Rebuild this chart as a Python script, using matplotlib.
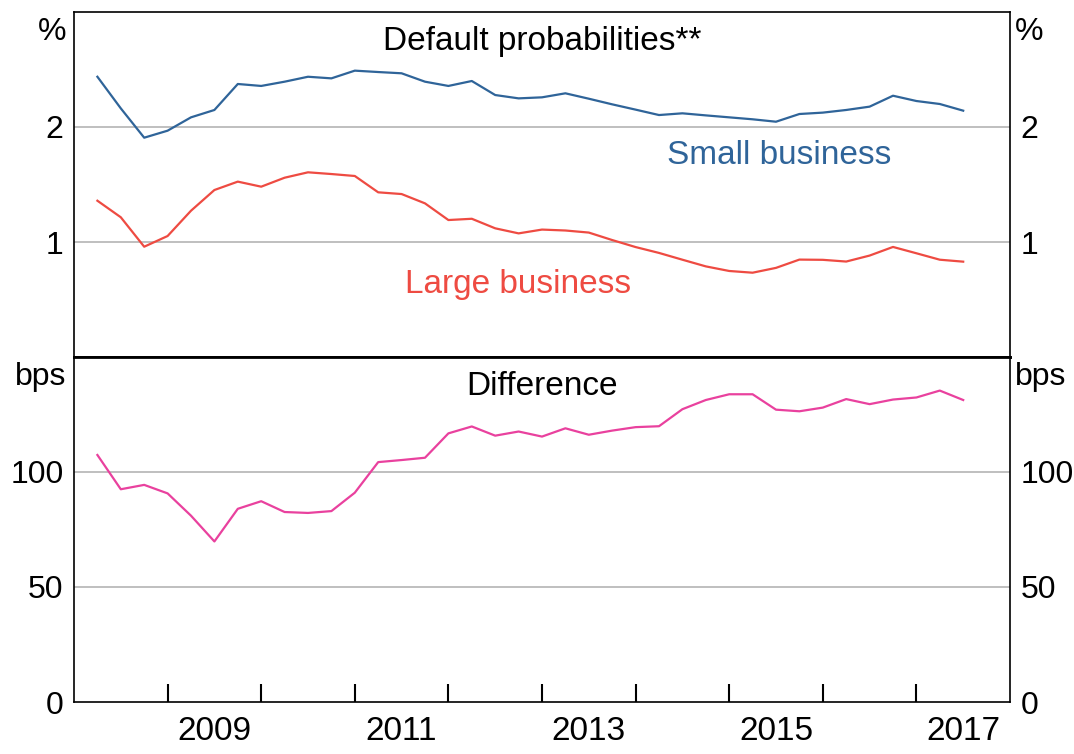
import numpy as np
import matplotlib.pyplot as plt

# Quarterly observations, 2008 Q2 .. 2017 Q3 (decimal years)
quarters = np.arange(2008.25, 2017.51, 0.25)

small_business = [2.437, 2.162, 1.907, 1.968, 2.084, 2.148, 2.374, 2.357, 2.394, 2.437,
                  2.423, 2.490, 2.478, 2.467, 2.394, 2.357, 2.400, 2.278, 2.249, 2.258,
                  2.293, 2.246, 2.197, 2.151, 2.104, 2.119, 2.101, 2.084, 2.067, 2.046,
                  2.113, 2.125, 2.148, 2.177, 2.272, 2.226, 2.200, 2.142]
large_business = [1.359, 1.215, 0.959, 1.052, 1.272, 1.452, 1.525, 1.481, 1.559, 1.606,
                  1.591, 1.574, 1.432, 1.417, 1.336, 1.191, 1.202, 1.119, 1.075, 1.108,
                  1.100, 1.082, 1.017, 0.956, 0.905, 0.846, 0.788, 0.748, 0.733, 0.775,
                  0.847, 0.845, 0.830, 0.882, 0.957, 0.902, 0.846, 0.829]
difference = [107.4, 92.5, 94.4, 90.7, 81.0, 69.8, 84.0, 87.3, 82.6, 82.2,
              83.0, 91.0, 104.3, 105.2, 106.2, 116.8, 119.8, 115.8, 117.6, 115.4,
              119.0, 116.2, 118.0, 119.5, 119.9, 127.3, 131.3, 133.8, 133.8, 127.1,
              126.4, 128.0, 131.7, 129.5, 131.5, 132.4, 135.4, 131.3]

year_ticks = list(range(2009, 2018))
year_labels = [2009, 2011, 2013, 2015, 2017]

BLUE = "#2f6499"
RED = "#ee4b42"
PINK = "#e9419e"
GRID = "#b4b4b4"

plt.rcParams['font.family'] = ['Liberation Sans', 'DejaVu Sans']
FS = 24
YFS = 23

fig = plt.figure(figsize=(10.74, 7.54), dpi=100)
W, H = 1074, 754
left, right = 74 / W, 1010 / W
top_px, mid_px, bot_px = 12, 357, 702
ax1 = fig.add_axes([left, 1 - mid_px / H, right - left, (mid_px - top_px) / H])
ax2 = fig.add_axes([left, 1 - bot_px / H, right - left, (bot_px - mid_px) / H], sharex=ax1)

# Top panel: default probabilities
ax1.plot(quarters, small_business, color=BLUE, lw=1.6)
ax1.plot(quarters, large_business, color=RED, lw=1.6)
ax1.set_ylim(0, 3)
ax1.set_yticks([1, 2])
for y in [1, 2]:
    ax1.axhline(y, color=GRID, lw=1.2, zorder=0)
ax1.text(0.5, 0.96, "Default probabilities**", transform=ax1.transAxes,
         ha='center', va='top', fontsize=FS)
ax1.text(2015.53, 1.75, "Small business", color=BLUE, fontsize=FS, ha='center', va='center')
ax1.text(2012.74, 0.63, "Large business", color=RED, fontsize=FS, ha='center', va='center')

# Bottom panel: difference
ax2.plot(quarters, difference, color=PINK, lw=1.6)
ax2.set_ylim(0, 150)
ax2.set_yticks([0, 50, 100])
for y in [50, 100]:
    ax2.axhline(y, color=GRID, lw=1.2, zorder=0)
ax2.text(0.5, 0.96, "Difference", transform=ax2.transAxes,
         ha='center', va='top', fontsize=FS)

# Shared x axis: ticks at year starts, labels mid-year
ax2.set_xlim(2008, 2018)
ax2.set_xticks(year_ticks)
ax2.set_xticks([y + 0.5 for y in year_labels], minor=True)
ax2.set_xticklabels([])
ax2.set_xticklabels([str(y) for y in year_labels], minor=True)
ax2.tick_params(axis='x', which='major', direction='in', length=13, width=1.5)
ax2.tick_params(axis='x', which='minor', length=0, labelsize=FS, pad=10)
ax1.tick_params(axis='x', which='both', bottom=False, labelbottom=False)

for ax, unit in [(ax1, "%"), (ax2, "bps")]:
    ax.tick_params(axis='y', left=False, right=False, labelleft=True, labelright=True,
                   labelsize=YFS, pad=4)
    for s in ax.spines.values():
        s.set_linewidth(1.2)
    ax.text(-0.008, 0.985, unit, transform=ax.transAxes, ha='right', va='top', fontsize=YFS)
    ax.text(1.005, 0.985, unit, transform=ax.transAxes, ha='left', va='top', fontsize=YFS)

ax1.spines['bottom'].set_linewidth(2.0)
ax2.spines['top'].set_linewidth(2.0)

fig.savefig("out.png", dpi=100)
